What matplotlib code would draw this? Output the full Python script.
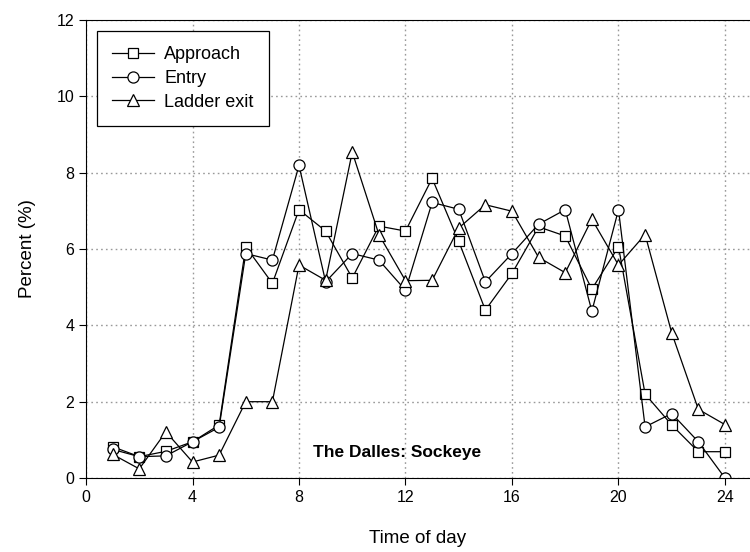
import matplotlib
matplotlib.use('Agg')
from matplotlib import pyplot as plt

plt.rcParams['font.family'] = ['Liberation Sans', 'DejaVu Sans']

hours = list(range(1, 25))
approach = [0.82, 0.56, 0.70, 0.95, 1.39, 6.06, 5.10, 7.03, 6.47, 5.24, 6.60, 6.47,
            7.85, 6.20, 4.40, 5.36, 6.58, 6.34, 4.95, 6.06, 2.20, 1.39, 0.69, 0.69]
entry = [0.75, 0.56, 0.58, 0.95, 1.33, 5.88, 5.71, 8.19, 5.14, 5.88, 5.71, 4.92,
         7.22, 7.04, 5.14, 5.88, 6.65, 7.03, 4.37, 7.03, 1.34, 1.69, 0.95, 0.0]
ladder_exit = [0.62, 0.24, 1.21, 0.42, 0.60, 2.00, 2.00, 5.58, 5.18, 8.54, 6.38, 5.17,
               5.18, 6.55, 7.16, 6.99, 5.78, 5.38, 6.78, 5.58, 6.38, 3.80, 1.80, 1.40]

fig = plt.figure(figsize=(7.5, 5.52), dpi=100)
ax = fig.add_axes([0.1147, 0.134, 0.8853, 0.8298])

mk = dict(color='black', lw=0.9, mfc='white', mec='black', mew=0.9)
ax.plot(hours, approach, marker='s', ms=7.5, label='Approach', **mk)
ax.plot(hours, entry, marker='o', ms=8, label='Entry', **mk)
ax.plot(hours, ladder_exit, marker='^', ms=8.5, label='Ladder exit', **mk)

ax.set_xlim(0, 24.94)
ax.set_ylim(0, 12)
ax.set_xticks(range(0, 25, 4))
ax.set_yticks(range(0, 13, 2))
ax.tick_params(direction='out', length=5, labelsize=11.5, top=False, right=False)
ax.spines['right'].set_visible(False)
ax.grid(True, color='#999999', linestyle=(0, (1.2, 2.3)), lw=1)
ax.set_axisbelow(True)

ax.set_xlabel('Time of day', fontsize=13.5, labelpad=18)
ax.set_ylabel('Percent (%)', fontsize=13.5, labelpad=15)

ax.text(11.7, 0.68, 'The Dalles: Sockeye', fontsize=12.5, fontweight='bold',
        ha='center', va='center')

leg = ax.legend(loc='upper left', bbox_to_anchor=(0.016, 0.976), borderaxespad=0,
                fontsize=13, handlelength=2.3, labelspacing=0.37, fancybox=False,
                edgecolor='black', framealpha=1, borderpad=0.85, handletextpad=0.6)
leg.get_frame().set_linewidth(0.9)

plt.savefig('out.png', dpi=100)
